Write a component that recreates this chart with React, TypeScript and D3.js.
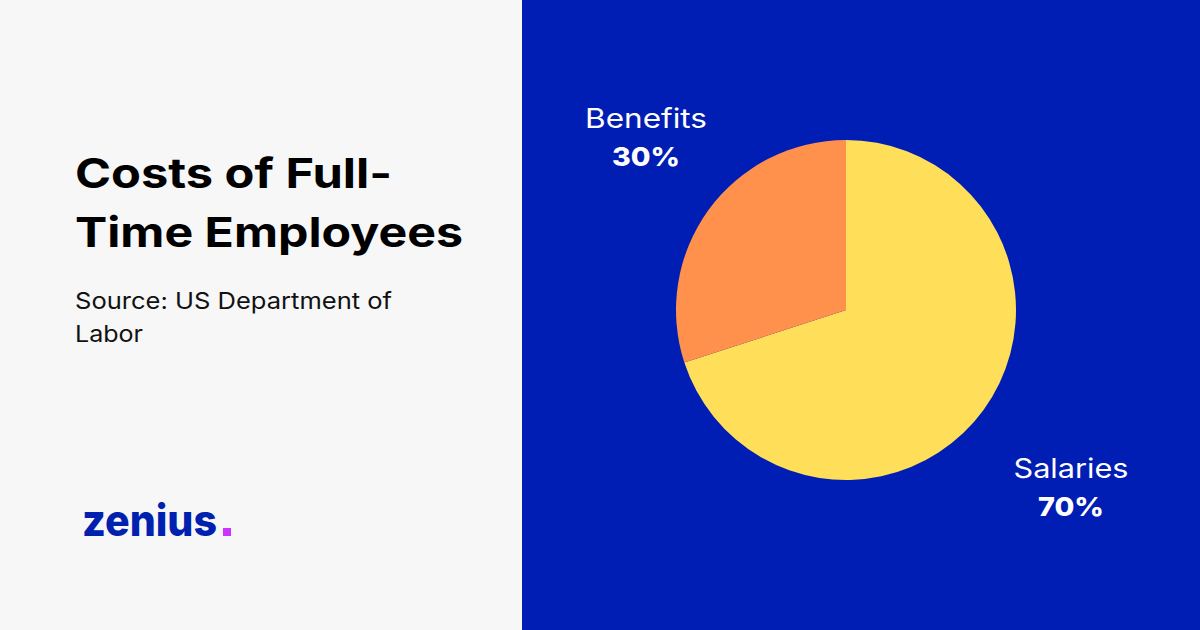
import React from "react";
import * as d3 from "d3";

const categories = ["Salaries", "Benefits"];
const values = [70, 30];
const valueLabels = ["70%", "30%"];
const colors = ["#FFDE59", "#FF914D"];

const W = 1200;
const H = 630;
const PANEL_X = 522;
const CX = 846;
const CY = 310;
const R = 170;

export default function App() {
  const pie = d3.pie<number>().sort(null).value((d) => d)(values);
  const arc = d3.arc<d3.PieArcDatum<number>>().innerRadius(0).outerRadius(R);
  const labelPos = [
    { x: 1071, y: 478, nameLen: 115, valLen: 66 },
    { x: 646, y: 128, nameLen: 122, valLen: 68 },
  ];
  const font = "Inter, 'Noto Sans', sans-serif";
  return (
    <svg width={W} height={H} style={{ position: "absolute", left: 0, top: 0 }}>
      <rect x={0} y={0} width={PANEL_X} height={H} fill="#F7F7F7" />
      <rect x={PANEL_X} y={0} width={W - PANEL_X} height={H} fill="#001EB3" />
      <g fontFamily={font}>
        <text x={75} y={188} fontSize={41} fontWeight={700} fill="#000" textLength={317} lengthAdjust="spacingAndGlyphs">
          Costs of Full-
        </text>
        <text x={75} y={247} fontSize={41} fontWeight={700} fill="#000" textLength={388} lengthAdjust="spacingAndGlyphs">
          Time Employees
        </text>
        <text x={75} y={309} fontSize={23} fill="#111" textLength={317} lengthAdjust="spacingAndGlyphs">
          Source: US Department of
        </text>
        <text x={75} y={342} fontSize={23} fill="#111" textLength={68} lengthAdjust="spacingAndGlyphs">
          Labor
        </text>
        <text x={82} y={536} fontSize={44} fontWeight={800} fill="#0020B0" textLength={135} lengthAdjust="spacingAndGlyphs">
          zenius
        </text>
        <rect x={223} y={528} width={8} height={8} fill="#CC33FF" />
      </g>
      <g transform={`translate(${CX},${CY})`}>
        {pie.map((p, i) => (
          <path key={categories[i]} d={arc(p) || ""} fill={colors[i]} />
        ))}
      </g>
      <g fontFamily={font} fill="#FFF" textAnchor="middle">
        {categories.map((c, i) => (
          <g key={c}>
            <text x={labelPos[i].x} y={labelPos[i].y} fontSize={27} textLength={labelPos[i].nameLen} lengthAdjust="spacingAndGlyphs">
              {c}
            </text>
            <text x={labelPos[i].x} y={labelPos[i].y + 38} fontSize={26} fontWeight={800} textLength={labelPos[i].valLen} lengthAdjust="spacingAndGlyphs">
              {valueLabels[i]}
            </text>
          </g>
        ))}
      </g>
    </svg>
  );
}
